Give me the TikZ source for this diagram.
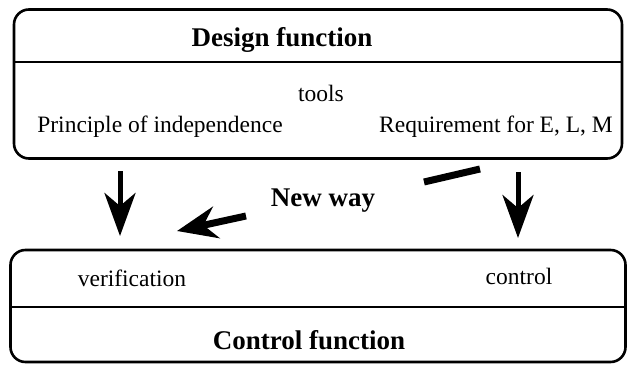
\documentclass[tikz,border=0pt]{standalone}
\usepackage{fontspec}
\setmainfont{Liberation Serif}
\usetikzlibrary{arrows.meta}
\begin{document}
\begin{tikzpicture}[x=1pt,y=-1pt,
  frame/.style={draw, line width=2.6pt, rounded corners=15pt, inner sep=0pt},
  rule/.style={line width=2.6pt},
  lbl/.style={inner sep=0pt, font=\fontsize{23.5}{26}\selectfont},
  ttl/.style={inner sep=0pt, font=\fontsize{27}{30}\selectfont\bfseries},
  bigarrow/.style={line width=5pt, -{Stealth[length=43pt,width=31pt,inset=13pt]}}]
\useasboundingbox (0,0) rectangle (628,366);
% top box
\node[frame, minimum width=608pt, minimum height=149pt] (top) at (318,84) {};
\coordinate (tl) at (14,62); \coordinate (tr) at (622,62);
\draw[rule] (tl) -- (tr);
\node[ttl] (design) at (282,40) {Design function};
\node[lbl] (tools) at (321,93) {tools};
\node[lbl] (princ) at (160,127) {Principle of independence};
\node[lbl] (req) at (496,127) {Requirement for E, L, M};
% bottom box
\node[frame, minimum width=615pt, minimum height=112pt] (bot) at (318,306) {};
\coordinate (bl) at (10,307); \coordinate (br) at (626,307);
\draw[rule] (bl) -- (br);
\node[lbl] (verif) at (132,278) {verification};
\node[lbl] (ctrl) at (519,276) {control};
\node[ttl] (cfun) at (309,340) {Control function};
% arrows
\coordinate (a1s) at (120,171); \coordinate (a1e) at (120,236);
\coordinate (a2s) at (518,172); \coordinate (a2e) at (518,238);
\draw[bigarrow] (a1s) -- (a1e);
\draw[bigarrow] (a2s) -- (a2e);
\node[ttl] (newway) at (323,201) {New way};
\coordinate (a3s) at (246,216); \coordinate (a3e) at (177,231);
\draw[bigarrow, line width=7pt, -{Stealth[length=40pt,width=32pt,inset=13pt]}] (a3s) -- (a3e);
\coordinate (b1) at (424,182); \coordinate (b2) at (480,169);
\draw[line width=7pt] (b1) -- (b2);
\end{tikzpicture}
\end{document}
